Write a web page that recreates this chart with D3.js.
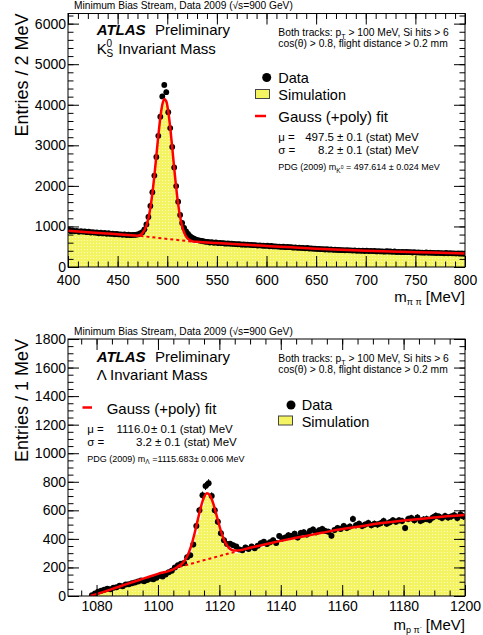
<!DOCTYPE html>
<html>
<head>
<meta charset="utf-8">
<script src="https://cdn.jsdelivr.net/npm/d3@7"></script>
<style>
body { margin: 0; background: #fff; }
svg { display: block; font-family: "Liberation Sans", Arial, Helvetica, sans-serif; }
</style>
</head>
<body>
<script>
// ---- K0s panel: 2 MeV bins, 400 - 800 MeV ----
var ksLow = 400, ksBin = 2;
var ksData = [
  912, 884, 898, 880, 893, 868, 886, 870, 876, 858,
  872, 850, 858, 846, 850, 832, 846, 828, 838, 820,
  832, 815, 824, 808, 816, 802, 806, 795, 806, 788,
  795, 784, 792, 790, 796, 808, 832, 858, 930, 1050,
  1235, 1505, 1845, 2255, 2715, 3235, 3705, 4205, 4490, 4310,
  3815, 3425, 2960, 2455, 1995, 1610, 1285, 1085, 965, 880,
  815, 760, 722, 698, 672, 664, 648, 642, 630, 620,
  620, 604, 612, 596, 606, 590, 594, 588, 586, 576,
  584, 574, 576, 568, 566, 561, 563, 550, 556, 548,
  554, 546, 545, 538, 540, 528, 534, 528, 524, 522,
  526, 512, 518, 508, 510, 504, 504, 494, 500, 490,
  494, 488, 488, 476, 486, 472, 476, 470, 470, 460,
  468, 456, 458, 452, 452, 446, 446, 440, 440, 432,
  440, 428, 436, 424, 426, 422, 422, 416, 418, 410,
  418, 412, 412, 404, 412, 400, 404, 400, 402, 394,
  406, 392, 396, 392, 394, 384, 392, 384, 386, 378,
  388, 382, 382, 374, 382, 368, 374, 368, 370, 366,
  372, 366, 368, 358, 366, 356, 360, 354, 356, 350,
  360, 348, 354, 346, 348, 344, 346, 340, 342, 336,
  346, 338, 342, 334, 338, 332, 334, 328, 332, 326
];
var ksSim = [
  842, 830, 834, 824, 828, 818, 822, 812, 816, 806,
  812, 800, 804, 794, 798, 788, 792, 782, 786, 776,
  780, 770, 774, 762, 766, 756, 760, 750, 752, 744,
  746, 738, 740, 734, 738, 748, 766, 796, 862, 962,
  1120, 1380, 1720, 2150, 2620, 3120, 3580, 3920, 4080, 3990,
  3730, 3330, 2850, 2340, 1860, 1450, 1150, 930, 790, 705,
  640, 612, 596, 588, 582, 577, 572, 568, 564, 560,
  556, 547, 549, 540, 544, 535, 537, 529, 532, 524,
  526, 520, 521, 514, 515, 508, 510, 503, 505, 499,
  500, 493, 494, 487, 488, 481, 482, 475, 476, 469,
  470, 463, 464, 457, 458, 451, 452, 446, 447, 441,
  442, 435, 436, 429, 430, 424, 425, 418, 420, 413,
  414, 408, 409, 402, 404, 397, 399, 392, 394, 387,
  389, 383, 385, 379, 381, 375, 377, 371, 373, 367,
  369, 364, 366, 360, 363, 357, 360, 354, 357, 351,
  354, 348, 351, 345, 348, 342, 345, 339, 342, 336,
  339, 333, 336, 330, 333, 327, 330, 324, 327, 321,
  324, 318, 321, 315, 318, 313, 315, 310, 312, 307,
  310, 304, 307, 302, 304, 299, 302, 297, 299, 294,
  297, 291, 294, 289, 292, 287, 289, 284, 287, 282
];
var ksFitX = [400, 420, 440, 460, 470, 473, 475, 477, 479, 481, 483, 485, 487, 489, 491, 493, 495, 497,
  499, 501, 503, 505, 507, 509, 511, 513, 515, 517, 519, 521, 523, 526, 530, 550, 575, 600, 625, 650,
  675, 700, 725, 750, 775, 800];
var ksFitY = [895, 859, 823, 788, 770, 790, 835, 906, 1020, 1199, 1461, 1812, 2246, 2737, 3236, 3678, 3998, 4145,
  4086, 3838, 3439, 2948, 2436, 1956, 1551, 1234, 1004, 848, 750, 691, 655, 628, 620, 590, 555, 520, 485, 452,
  424, 402, 384, 366, 349, 332];
var ksBgX = [473, 526];
var ksBgY = [765, 624];
var ksXTicks = [400, 450, 500, 550, 600, 650, 700, 750, 800];
var ksYTicks = [0, 1000, 2000, 3000, 4000, 5000, 6000];

// ---- Lambda panel: 1 MeV bins, 1078 - 1200 MeV ----
var lamLow = 1078, lamBin = 1;
var lamData = [
  5, 18, 30, 36, 44, 50, 47, 57, 62, 72,
  68, 80, 83, 90, 94, 101, 108, 104, 112, 121,
  117, 128, 141, 137, 150, 166, 176, 200, 216, 226,
  232, 272, 285, 360, 490, 600, 705, 770, 790, 700,
  600, 520, 440, 390, 365, 366, 356, 346, 326, 320,
  340, 330, 346, 334, 352, 370, 380, 364, 376, 390,
  372, 420, 402, 410, 426, 420, 436, 410, 442, 446,
  430, 456, 466, 446, 460, 470, 456, 450, 422, 462,
  476, 470, 490, 476, 486, 540, 496, 506, 490, 500,
  512, 496, 506, 500, 510, 526, 506, 516, 530, 520,
  530, 526, 476, 540, 546, 530, 550, 526, 536, 540,
  532, 550, 562, 556, 546, 560, 550, 556, 566, 546,
  570, 556
];
var lamSim = [
  4, 15, 24, 31, 36, 43, 46, 52, 59, 64,
  67, 75, 80, 84, 91, 95, 99, 105, 110, 114,
  121, 126, 131, 139, 146, 153, 165, 176, 189, 206,
  221, 249, 281, 345, 430, 535, 630, 700, 720, 690,
  620, 530, 440, 376, 336, 316, 306, 300, 298, 301,
  305, 311, 317, 326, 331, 339, 344, 353, 357, 365,
  369, 377, 381, 389, 393, 401, 403, 411, 414, 421,
  424, 431, 433, 439, 442, 448, 450, 456, 459, 465,
  467, 473, 475, 481, 483, 488, 489, 495, 496, 501,
  502, 507, 508, 513, 514, 519, 520, 525, 526, 530,
  530, 534, 534, 538, 538, 542, 542, 546, 546, 550,
  549, 553, 552, 556, 555, 558, 557, 560, 559, 562,
  561, 563
];
var lamFitX = [1078, 1085, 1090, 1095, 1100, 1106, 1107, 1108, 1109, 1110, 1111, 1112, 1113, 1114, 1115,
  1116, 1117, 1118, 1119, 1120, 1121, 1122, 1123, 1124, 1125, 1126, 1130, 1135, 1140, 1145, 1150, 1157,
  1165, 1170, 1180, 1190, 1200];
var lamFitY = [0, 48, 85, 120, 155, 198, 213, 230, 258, 301, 363, 445, 537, 625, 691,
  719, 702, 648, 572, 492, 422, 372, 339, 323, 318, 318, 338, 362, 386, 408, 428, 458,
  485, 502, 528, 550, 567];
var lamBgX = [1107, 1126];
var lamBgY = [204, 315];
var lamXTicks = [1080, 1100, 1120, 1140, 1160, 1180, 1200];
var lamYTicks = [0, 200, 400, 600, 800, 1000, 1200, 1400, 1600, 1800];

var W = 483, H = 635;
var svg = d3.select("body").append("svg").attr("width", W).attr("height", H);
svg.append("rect").attr("width", W).attr("height", H).attr("fill", "#fff");

var defs = svg.append("defs");
var pat = defs.append("pattern").attr("id", "simfill")
  .attr("width", 3).attr("height", 3).attr("patternUnits", "userSpaceOnUse");
pat.append("rect").attr("width", 3).attr("height", 3).attr("fill", "#f4f462");
pat.append("rect").attr("width", 1).attr("height", 1).attr("fill", "#fcfcc0");

function drawPanel(p) {
  var x = d3.scaleLinear().domain(p.xDomain).range([p.left, p.right]);
  var y = d3.scaleLinear().domain(p.yDomain).range([p.bottom, p.top]);
  var g = svg.append("g");

  defs.append("clipPath").attr("id", p.id + "clip")
    .append("rect").attr("x", p.left).attr("y", p.top)
    .attr("width", p.right - p.left).attr("height", p.bottom - p.top);
  var plot = g.append("g").attr("clip-path", "url(#" + p.id + "clip)");

  // simulation histogram (step fill)
  var simPts = p.sim.map(function(v, i) { return [p.low + i * p.bin, v]; });
  simPts.push([p.low + p.sim.length * p.bin, p.sim[p.sim.length - 1]]);
  plot.append("path")
    .attr("d", d3.area().curve(d3.curveStepAfter)
      .x(function(d) { return x(d[0]); })
      .y0(y(0)).y1(function(d) { return y(d[1]); })(simPts))
    .attr("fill", "url(#simfill)");

  // data points with errors
  var pts = p.data.map(function(v, i) { return { m: p.low + (i + 0.5) * p.bin, v: v }; });
  plot.selectAll("line.err").data(pts).enter().append("line")
    .attr("x1", function(d) { return x(d.m); }).attr("x2", function(d) { return x(d.m); })
    .attr("y1", function(d) { return y(d.v - Math.sqrt(d.v)); })
    .attr("y2", function(d) { return y(d.v + Math.sqrt(d.v)); })
    .attr("stroke", "#000").attr("stroke-width", 1);
  plot.selectAll("circle.pt").data(pts).enter().append("circle")
    .attr("cx", function(d) { return x(d.m); })
    .attr("cy", function(d) { return y(d.v); })
    .attr("r", p.r).attr("fill", "#000");

  // fit
  var line = d3.line().curve(d3.curveMonotoneX)
    .x(function(d) { return x(d[0]); }).y(function(d) { return y(d[1]); });
  plot.append("path").attr("d", line(d3.zip(p.bgX, p.bgY)))
    .attr("fill", "none").attr("stroke", "#ff0000").attr("stroke-width", 2)
    .attr("stroke-dasharray", "3,3");
  plot.append("path").attr("d", line(d3.zip(p.fitX, p.fitY)))
    .attr("fill", "none").attr("stroke", "#ff0000").attr("stroke-width", 2.5);

  // axes, ticks inward on all four sides
  function style(sel) {
    sel.select(".domain").remove();
    sel.selectAll("line").attr("stroke", "#000");
    sel.selectAll("text").attr("font-size", 14).attr("fill", "#000")
      .attr("font-family", "Liberation Sans, Arial, sans-serif");
  }
  var fmt = d3.format("d");
  g.append("g").attr("transform", "translate(0," + p.bottom + ")")
    .call(d3.axisBottom(x).tickValues(p.xTicks).tickSizeInner(-11).tickSizeOuter(0).tickPadding(p.xPad).tickFormat(fmt)).call(style);
  g.append("g").attr("transform", "translate(0," + p.bottom + ")")
    .call(d3.axisBottom(x).tickValues(p.xMinor).tickSizeInner(-5.5).tickSizeOuter(0).tickFormat("")).call(style);
  g.append("g").attr("transform", "translate(0," + p.top + ")")
    .call(d3.axisTop(x).tickValues(p.xTicks).tickSizeInner(-11).tickSizeOuter(0).tickFormat("")).call(style);
  g.append("g").attr("transform", "translate(0," + p.top + ")")
    .call(d3.axisTop(x).tickValues(p.xMinor).tickSizeInner(-5.5).tickSizeOuter(0).tickFormat("")).call(style);
  g.append("g").attr("transform", "translate(" + p.left + ",0)")
    .call(d3.axisLeft(y).tickValues(p.yTicks).tickSizeInner(-11).tickSizeOuter(0).tickPadding(2).tickFormat(fmt)).call(style);
  g.append("g").attr("transform", "translate(" + p.left + ",0)")
    .call(d3.axisLeft(y).tickValues(p.yMinor).tickSizeInner(-5.5).tickSizeOuter(0).tickFormat("")).call(style);
  g.append("g").attr("transform", "translate(" + p.right + ",0)")
    .call(d3.axisRight(y).tickValues(p.yTicks).tickSizeInner(-11).tickSizeOuter(0).tickFormat("")).call(style);
  g.append("g").attr("transform", "translate(" + p.right + ",0)")
    .call(d3.axisRight(y).tickValues(p.yMinor).tickSizeInner(-5.5).tickSizeOuter(0).tickFormat("")).call(style);

  g.append("rect").attr("x", p.left).attr("y", p.top)
    .attr("width", p.right - p.left).attr("height", p.bottom - p.top)
    .attr("fill", "none").attr("stroke", "#000").attr("stroke-width", 1);

  // y title
  g.append("text").attr("transform", "translate(28," + p.top + ") rotate(-90)")
    .attr("text-anchor", "end").attr("font-size", 18).text(p.yTitle);

  return { x: x, y: y, g: g };
}

function range(a, b, s) { return d3.range(a, b + s / 2, s); }

drawPanel({
  id: "ks", left: 68, right: 465, top: 13.5, bottom: 267,
  xDomain: [400, 800], yDomain: [0, 6250],
  low: ksLow, bin: ksBin, data: ksData, sim: ksSim,
  fitX: ksFitX, fitY: ksFitY, bgX: ksBgX, bgY: ksBgY,
  xTicks: ksXTicks, xMinor: range(400, 800, 10),
  yTicks: ksYTicks, yMinor: range(0, 6200, 200),
  xPad: 8, r: 2.9, yTitle: "Entries / 2 MeV"
});
drawPanel({
  id: "lam", left: 68, right: 465, top: 339, bottom: 596,
  xDomain: [1070.7, 1200], yDomain: [0, 1800],
  low: lamLow, bin: lamBin, data: lamData, sim: lamSim,
  fitX: lamFitX, fitY: lamFitY, bgX: lamBgX, bgY: lamBgY,
  xTicks: lamXTicks, xMinor: range(1075, 1200, 5),
  yTicks: lamYTicks, yMinor: range(0, 1800, 50),
  xPad: 5, r: 3, yTitle: "Entries / 1 MeV"
});

// ---- annotations ----
function txt(x, y, s, size, opts) {
  var t = svg.append("text").attr("x", x).attr("y", y).attr("font-size", size).attr("fill", "#000").text(s);
  if (opts) for (var k in opts) t.attr(k, opts[k]);
  return t;
}
function header(yb) {
  txt(74, yb, "Minimum Bias Stream, Data 2009 (\u221As=900 GeV)", 10.2);
}
function atlas(yb) {
  txt(96.7, yb, "ATLAS", 15, { "font-weight": "bold", "font-style": "italic" });
  txt(155, yb, "Preliminary", 15);
}
function cuts(yb) {
  var t = txt(278.3, yb, "Both tracks: p", 10.3);
  t.append("tspan").attr("font-size", 7).attr("dy", 3).text("T");
  t.append("tspan").attr("dy", -3).text(" > 100 MeV, Si hits > 6");
  txt(278.3, yb + 11.5, "cos(\u03b8) > 0.8, flight distance > 0.2 mm", 10.3);
}
function legData(cx, cy, tx) {
  svg.append("circle").attr("cx", cx).attr("cy", cy).attr("r", 4.5).attr("fill", "#000");
  txt(tx, cy + 5, "Data", 14.5);
}
function legSim(x0, y0, tx) {
  svg.append("rect").attr("x", x0).attr("y", y0).attr("width", 14).attr("height", 9)
    .attr("fill", "#f4f462").attr("stroke", "#444").attr("stroke-width", 1);
  txt(tx, y0 + 10.5, "Simulation", 14.5);
}
function legFit(x0, x1, yl, tx) {
  svg.append("line").attr("x1", x0).attr("x2", x1).attr("y1", yl).attr("y2", yl)
    .attr("stroke", "#ff0000").attr("stroke-width", 2.5);
  txt(tx, yl + 6, "Gauss (+poly) fit", 15);
}
function param(x0, yb, sym, val, valEnd, restX) {
  txt(x0, yb, sym + " =", 11.5);
  txt(valEnd, yb, val, 11.5, { "text-anchor": "end" });
  txt(restX, yb, "\u00b1 0.1 (stat) MeV", 11.5);
}

// top panel texts
header(8.5);
atlas(34.5);
txt(96.7, 53.5, "K", 15);
txt(106.5, 47, "0", 10);
txt(106.5, 57, "S", 10);
txt(118.3, 53.5, "Invariant Mass", 15);
cuts(35.5);
legData(266.7, 77.5, 278.3);
legSim(255.5, 89.5, 278.3);
legFit(255, 266, 116, 278.3);
param(278.3, 141.3, "\u03bc", "497.5", 334, 337);
param(278.3, 153.8, "\u03c3", "8.2", 334, 337);
var pdg1 = txt(278.3, 170, "PDG (2009) m", 9);
pdg1.append("tspan").attr("font-size", 6.5).attr("dy", 2.5).text("K");
pdg1.append("tspan").attr("font-size", 5).attr("dy", -4).text("0");
pdg1.append("tspan").attr("dy", 1.5).text(" = 497.614 \u00b1 0.024 MeV");

var xt1 = txt(465, 302, "m", 15, { "text-anchor": "end" });
xt1.append("tspan").attr("font-size", 9).attr("dy", 3).text("\u03c0 \u03c0");
xt1.append("tspan").attr("dy", -3).text(" [MeV]");

// bottom panel texts
header(335);
atlas(361.5);
txt(96.7, 380, "\u039b Invariant Mass", 15);
cuts(361.5);
legData(291, 405, 301.7);
legSim(278.5, 416, 301.7);
legFit(82.5, 92, 407.5, 106.7);
param(87.3, 433.3, "\u03bc", "1116.0", 150, 151);
param(87.3, 445.8, "\u03c3", "3.2", 152, 155);
var pdg2 = txt(87.3, 461.7, "PDG (2009) m", 9);
pdg2.append("tspan").attr("font-size", 6.5).attr("dy", 2.5).text("\u039b");
pdg2.append("tspan").attr("dy", -2.5).text(" =1115.683\u00b1 0.006 MeV");

var xt2 = txt(465, 630, "m", 15, { "text-anchor": "end" });
xt2.append("tspan").attr("font-size", 9).attr("dy", 3).text("p \u03c0");
xt2.append("tspan").attr("font-size", 6).attr("dy", -4).text("-");
xt2.append("tspan").attr("dy", 1).text(" [MeV]");
</script>
</body>
</html>
